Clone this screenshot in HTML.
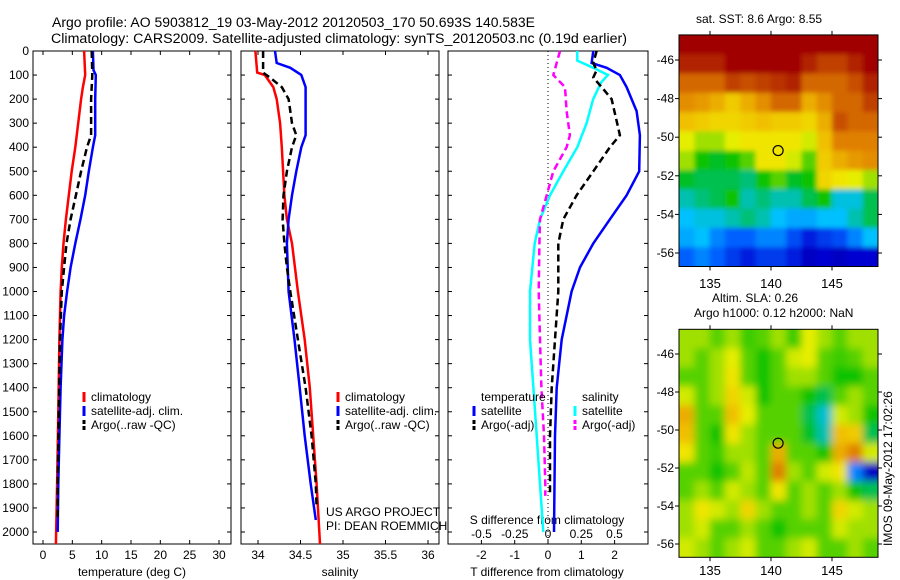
<!DOCTYPE html>
<html><head><meta charset="utf-8">
<style>
html,body{margin:0;padding:0;background:#fff;}
svg{display:block;font-family:"Liberation Sans",sans-serif;}
text{fill:#000;}
</style></head>
<body>
<svg id="fig" width="900" height="580" viewBox="0 0 900 580" xmlns="http://www.w3.org/2000/svg">
<defs>
<filter id="blur" x="-5%" y="-5%" width="110%" height="110%"><feGaussianBlur stdDeviation="4"/></filter>
<filter id="blur2" x="-5%" y="-5%" width="110%" height="110%"><feGaussianBlur stdDeviation="2.5"/></filter>
<clipPath id="clip1"><rect x="679" y="35" width="199" height="232"/></clipPath>
<clipPath id="clip2"><rect x="679" y="329" width="199" height="228"/></clipPath>
</defs>
<text x="52" y="27" font-size="13.5" textLength="483" lengthAdjust="spacingAndGlyphs">Argo profile: AO 5903812_19 03-May-2012 20120503_170 50.693S 140.583E</text>
<text x="51" y="43" font-size="13.5" textLength="576" lengthAdjust="spacingAndGlyphs">Climatology: CARS2009. Satellite-adjusted climatology: synTS_20120503.nc (0.19d earlier)</text>
<text x="696" y="23" font-size="12">sat. SST: 8.6 Argo: 8.55</text>
<text x="712" y="302" font-size="12">Altim. SLA: 0.26</text>
<text x="694" y="317" font-size="12">Argo h1000: 0.12 h2000: NaN</text>
<text transform="translate(892,546) rotate(-90)" font-size="12">IMOS 09-May-2012 17:02:26</text>
<text x="326" y="516" font-size="12">US ARGO PROJECT</text>
<text x="326" y="530" font-size="12">PI: DEAN ROEMMICH</text>
<g id="layer"></g>
</svg>
<script>
// ---------- data ----------
const depthTicks = [0,100,200,300,400,500,600,700,800,900,1000,1100,1200,1300,1400,1500,1600,1700,1800,1900,2000];
const tempTicks = [0,5,10,15,20,25,30];
const salTicks = [34,34.5,35,35.5,36];
const salTickLabels = ["34","34.5","35","35.5","36"];
const tdiffTicks = [-2,-1,0,1,2];
const sdiffTicks = [-0.5,-0.25,0,0.25,0.5];
const sdiffTickLabels = ["-0.5","-0.25","0","0.25","0.5"];

const climTempDepth = [0,100,150,200,300,400,500,600,700,800,900,1000,1200,1500,1800,2050];
const climTemp      = [7.0,7.2,6.8,6.5,6.0,5.5,4.9,4.4,3.9,3.5,3.2,3.0,2.8,2.6,2.4,2.2];
const satTempDepth  = [0,80,100,200,350,400,500,600,700,800,900,1000,1100,1200,1400,1600,1800,2000];
const satTemp       = [8.5,8.6,9.0,8.9,8.9,8.5,7.8,7.2,6.4,5.5,4.7,4.1,3.6,3.3,3.0,2.8,2.6,2.5];
const argoTempDepth = [0,100,200,350,400,500,600,700,800,900,1000,1200,1500,1800,1950];
const argoTemp      = [8.3,8.4,8.2,8.2,7.5,6.5,5.6,4.7,4.0,3.6,3.2,2.9,2.7,2.5,2.5];

const climSalDepth = [0,90,100,150,200,300,400,600,700,800,1000,1200,1400,1600,1800,2050];
const climSal      = [33.97,33.99,34.08,34.18,34.22,34.26,34.28,34.31,34.34,34.40,34.47,34.55,34.61,34.65,34.69,34.73];
const satSalDepth  = [0,50,70,100,150,350,400,500,600,700,800,1000,1200,1400,1600,1800,1950];
const satSal       = [34.20,34.22,34.38,34.51,34.56,34.56,34.51,34.45,34.40,34.36,34.34,34.36,34.43,34.49,34.55,34.62,34.68];
const argoSalDepth = [0,90,110,150,200,300,350,400,500,600,700,800,900,1000,1200,1400,1600,1800,1900];
const argoSal      = [34.06,34.06,34.14,34.28,34.36,34.40,34.45,34.40,34.34,34.30,34.29,34.31,34.34,34.38,34.47,34.56,34.63,34.68,34.69];

const tSatDiffDepth = [0,50,70,100,150,250,350,500,600,700,800,900,1000,1200,1400,1600,2000];
const tSatDiff      = [1.36,1.31,1.76,2.16,2.36,2.66,2.76,2.74,2.36,1.86,1.36,0.96,0.71,0.41,0.26,0.21,0.18];
const tArgoDiffDepth = [0,50,80,110,150,200,350,400,500,600,700,800,900,1000,1200,1400,1600,1850];
const tArgoDiff      = [1.46,1.36,1.46,1.36,1.61,1.91,2.16,1.86,1.36,0.86,0.46,0.31,0.31,0.31,0.21,0.11,0.06,0.06];
const sSatDiffDepth = [0,40,70,100,130,200,300,400,500,600,700,800,1000,1200,1400,1600,1800,2000];
const sSatDiff      = [0.22,0.22,0.34,0.45,0.40,0.34,0.29,0.22,0.115,0.015,-0.06,-0.10,-0.135,-0.135,-0.11,-0.085,-0.06,-0.035];
const sArgoDiffDepth = [0,100,150,250,350,400,500,600,700,800,1000,1200,1400,1600,1800,1850];
const sArgoDiff      = [0.09,0.04,0.128,0.14,0.165,0.14,0.04,-0.01,-0.06,-0.065,-0.07,-0.06,-0.05,-0.03,-0.02,-0.02];

const lonTicks = [135,140,145];
const latTicks = [-46,-48,-50,-52,-54,-56];
const argoLon = 140.583, argoLat = -50.693;
const sstGrid = [
[1,1,1,1,1,1,1,1,1,1,1,1,1],
[0.95,0.95,0.95,1,1,1,1,1,0.95,0.9,0.9,0.95,1],
[0.85,0.85,0.85,0.9,0.88,0.9,0.92,0.95,0.85,0.85,0.85,0.88,0.95],
[0.8,0.78,0.75,0.7,0.75,0.8,0.85,0.85,0.75,0.8,0.85,0.85,0.9],
[0.72,0.7,0.68,0.68,0.7,0.72,0.7,0.7,0.68,0.75,0.88,0.85,0.85],
[0.62,0.55,0.55,0.62,0.65,0.65,0.65,0.65,0.6,0.72,0.82,0.82,0.82],
[0.55,0.45,0.42,0.45,0.5,0.65,0.65,0.6,0.5,0.7,0.75,0.78,0.8],
[0.42,0.4,0.4,0.4,0.38,0.45,0.5,0.42,0.45,0.68,0.65,0.62,0.55],
[0.35,0.38,0.4,0.45,0.35,0.38,0.35,0.35,0.4,0.45,0.32,0.32,0.4],
[0.3,0.32,0.32,0.35,0.38,0.35,0.3,0.28,0.28,0.3,0.3,0.35,0.4],
[0.28,0.3,0.25,0.22,0.22,0.25,0.25,0.2,0.15,0.18,0.2,0.25,0.3],
[0.22,0.25,0.22,0.18,0.15,0.18,0.18,0.15,0.1,0.12,0.1,0.12,0.12]];
const slaGrid = [
[.55,.55,.5,.55,.48,.5,.55,.48,.62,.55,.5,.55,.55],
[.55,.5,.55,.62,.5,.45,.5,.6,.62,.5,.48,.5,.55],
[.5,.5,.55,.65,.5,.45,.5,.55,.55,.5,.45,.45,.5],
[.6,.5,.55,.68,.6,.45,.5,.5,.45,.4,.5,.55,.5],
[.75,.5,.5,.72,.62,.5,.5,.5,.4,.33,.6,.55,.45],
[.72,.5,.45,.65,.55,.5,.5,.5,.42,.35,.72,.7,.4],
[.65,.5,.48,.55,.55,.5,.75,.5,.5,.45,.75,.82,.6],
[.5,.5,.45,.5,.58,.5,.82,.55,.5,.6,.65,.25,.1],
[.5,.55,.5,.6,.55,.5,.65,.5,.55,.5,.55,.45,.4],
[.55,.65,.6,.55,.68,.55,.5,.5,.55,.5,.68,.6,.55],
[.55,.6,.5,.5,.55,.5,.45,.5,.5,.5,.6,.55,.55],
[.6,.55,.5,.55,.6,.5,.5,.55,.6,.5,.5,.55,.5]];

// ---------- helpers ----------
const NS = "http://www.w3.org/2000/svg";
const layer = document.getElementById('layer');
function mk(tag, attrs, parent){ const e=document.createElementNS(NS,tag); for(const k in attrs) e.setAttribute(k,attrs[k]); (parent||layer).appendChild(e); return e; }
const yTop=51, yBot=544;
const yD = d => yTop + d*(532-51)/2000;

function panel(name, x0, x1){
  const r = mk('rect',{x:x0,y:yTop,width:x1-x0,height:yBot-yTop,fill:'none',stroke:'#000','stroke-width':1});
  
  
  depthTicks.forEach(d=>{
    const y=yD(d);
    mk('line',{x1:x0,y1:y,x2:x0+4,y2:y,stroke:'#000'});
    mk('line',{x1:x1,y1:y,x2:x1-4,y2:y,stroke:'#000'});
  });
}
function xTicks(x0,x1,ticks,labels,sc,yLab,top){
  ticks.forEach((v,i)=>{
    const x=sc(v);
    mk('line',{x1:x,y1:yBot,x2:x,y2:yBot-4,stroke:'#000'});
    if(top) mk('line',{x1:x,y1:yTop,x2:x,y2:yTop+4,stroke:'#000'});
    const t=mk('text',{x:x,y:yLab,'font-size':12,'text-anchor':'middle'});
    t.textContent=labels[i];
    
    
  });
}
function line(depths, vals, sc, color, dashed, name, w){
  const pts = depths.map((d,i)=>sc(vals[i]).toFixed(1)+','+yD(d).toFixed(1)).join(' ');
  const p = mk('polyline',{points:pts,fill:'none',stroke:color,'stroke-width':w||2.5});
  if(dashed) p.setAttribute('stroke-dasharray','7,4');
  
  
}
function legendEntry(x,y,color,dashed,label,name){
  const l=mk('line',{x1:x,y1:y-9,x2:x,y2:y+1,stroke:color,'stroke-width':3});
  if(dashed) l.setAttribute('stroke-dasharray','4,2');
  const t=mk('text',{x:x+7,y:y,'font-size':12});
  t.textContent=label;
  
  
}

// ---------- panel 1: temperature ----------
const sT = v => 43 + v*(219-43)/30;
panel('temperature-panel',33,231);
depthTicks.forEach(d=>{
  const t=mk('text',{x:29,y:yD(d)+4,'font-size':12,'text-anchor':'end'});
  t.textContent=String(d);
  
  
});
xTicks(33,231,tempTicks,tempTicks.map(String),sT,559,true);
const xl1=mk('text',{x:132,y:576,'font-size':12,'text-anchor':'middle'}); xl1.textContent='temperature (deg C)';


line(climTempDepth,climTemp,sT,'#ff0000',false,'temp-climatology-line');
line(satTempDepth,satTemp,sT,'#0000ff',false,'temp-satellite-line');
line(argoTempDepth,argoTemp,sT,'#000',true,'temp-argo-line');
legendEntry(84,401,'#ff0000',false,'climatology','legend-climatology');
legendEntry(84,415,'#0000ff',false,'satellite-adj. clim.','legend-satellite');
legendEntry(84,429,'#000',true,'Argo(..raw -QC)','legend-argo');

// ---------- panel 2: salinity ----------
const sS = v => 258 + (v-34)*85;
panel('salinity-panel',241,439);
xTicks(241,439,salTicks,salTickLabels,sS,559,true);
const xl2=mk('text',{x:340,y:576,'font-size':12,'text-anchor':'middle'}); xl2.textContent='salinity';


line(climSalDepth,climSal,sS,'#ff0000',false,'sal-climatology-line');
line(satSalDepth,satSal,sS,'#0000ff',false,'sal-satellite-line');
line(argoSalDepth,argoSal,sS,'#000',true,'sal-argo-line');
legendEntry(338,401,'#ff0000',false,'climatology','legend-climatology-2');
legendEntry(338,415,'#0000ff',false,'satellite-adj. clim.','legend-satellite-2');
legendEntry(338,429,'#000',true,'Argo(..raw -QC)','legend-argo-2');

// ---------- panel 3: differences ----------
const sTd = v => 548 + v*33.3;
const sSd = v => 548 + v*133;
panel('difference-panel',448,648);
xTicks(448,648,tdiffTicks,tdiffTicks.map(String),sTd,559,false);
sdiffTicks.forEach((v,i)=>{
  const t=mk('text',{x:sSd(v),y:538,'font-size':12,'text-anchor':'middle'});
  t.textContent=sdiffTickLabels[i];
  
  
});
const sl=mk('text',{x:547,y:524,'font-size':12,'text-anchor':'middle'}); sl.textContent='S difference from climatology';


const tl=mk('text',{x:547,y:576,'font-size':12,'text-anchor':'middle'}); tl.textContent='T difference from climatology';


const zl=mk('line',{x1:548,y1:yTop,x2:548,y2:yBot,stroke:'#000','stroke-dasharray':'1,3'});


line(sSatDiffDepth,sSatDiff,sSd,'#00ffff',false,'s-satellite-diff-line');
line(sArgoDiffDepth,sArgoDiff,sSd,'#ff00ff',true,'s-argo-diff-line');
line(tSatDiffDepth,tSatDiff,sTd,'#0000ff',false,'t-satellite-diff-line');
line(tArgoDiffDepth,tArgoDiff,sTd,'#000',true,'t-argo-diff-line');
const lt=mk('text',{x:481,y:401,'font-size':12}); lt.textContent='temperature';


const ls=mk('text',{x:582,y:401,'font-size':12}); ls.textContent='salinity';


legendEntry(474,415,'#0000ff',false,'satellite','legend-t-satellite');
legendEntry(474,429,'#000',true,'Argo(-adj)','legend-t-argo');
legendEntry(575,415,'#00ffff',false,'satellite','legend-s-satellite');
legendEntry(575,429,'#ff00ff',true,'Argo(-adj)','legend-s-argo');

// ---------- maps ----------
const cmapStops = [0,0.12,0.22,0.3,0.36,0.44,0.55,0.63,0.72,0.82,0.9,1];
const cmapColors = [[0,0,128],[0,0,208],[0,96,255],[0,192,255],[0,192,160],[0,192,0],[160,224,0],[240,240,0],[240,192,0],[224,128,0],[192,64,0],[160,0,0]];
function cmap(v){
  v=Math.max(0,Math.min(1,v));
  let i=0; while(i<cmapStops.length-2 && v>cmapStops[i+1]) i++;
  const f=(v-cmapStops[i])/(cmapStops[i+1]-cmapStops[i]);
  const a=cmapColors[i], b=cmapColors[i+1];
  return 'rgb('+a.map((c,k)=>Math.round(c+(b[k]-c)*f)).join(',')+')';
}
function map(name, grid, lat46y, pxPerLat, labY, clipId, filt){
  const x0=679,x1=878;
  const lonX = lon => 710 + (lon-135)*12.2;
  const latY = lat => lat46y + (-46-lat)*pxPerLat;
  const yB0 = latY(-44.7), yB1 = latY(-56.7);
  const rows=grid.length, cols=grid[0].length;
  const cw=(x1-x0)/cols, ch=(yB1-yB0)/rows;
  const outer=mk('g',{'clip-path':'url(#'+clipId+')'});
  const g=mk('g',{filter:'url(#'+filt+')'},outer);
  
  
  grid.forEach((row,i)=>row.forEach((v,j)=>{
    const ex = 8;
    const xx = x0+j*cw - (j===0?ex:0), yy = yB0+i*ch - (i===0?ex:0);
    const ww = cw+0.6 + (j===0?ex:0) + (j===cols-1?ex:0);
    const hh = ch+0.6 + (i===0?ex:0) + (i===rows-1?ex:0);
    const c=mk('rect',{x:xx.toFixed(2),y:yy.toFixed(2),width:ww.toFixed(2),height:hh.toFixed(2),fill:cmap(v)},g);
    
    
  }));
  const fr=mk('rect',{x:x0,y:yB0,width:x1-x0,height:yB1-yB0,fill:'none',stroke:'#000'});
  
  
  latTicks.forEach(lat=>{
    const y=latY(lat);
    mk('line',{x1:x0-4,y1:y,x2:x0,y2:y,stroke:'#000'});
    mk('line',{x1:x1,y1:y,x2:x1+4,y2:y,stroke:'#000'});
    const t=mk('text',{x:674,y:y+4,'font-size':12,'text-anchor':'end'}); t.textContent=String(lat);
    
    
  });
  lonTicks.forEach(lon=>{
    const x=lonX(lon);
    mk('line',{x1:x,y1:yB0-4,x2:x,y2:yB0,stroke:'#000'});
    mk('line',{x1:x,y1:yB1,x2:x,y2:yB1+4,stroke:'#000'});
    const t=mk('text',{x:x,y:labY,'font-size':13,'text-anchor':'middle'}); t.textContent=String(lon);
    
    
  });
  const m=mk('circle',{cx:lonX(argoLon),cy:latY(argoLat),r:5,fill:'none',stroke:'#000','stroke-width':1.2});
  
  
}
map('sst-map', sstGrid, 60, 19.3, 288, 'clip1', 'blur2');
map('sla-map', slaGrid, 354, 19.0, 575, 'clip2', 'blur');
</script>
</body></html>
